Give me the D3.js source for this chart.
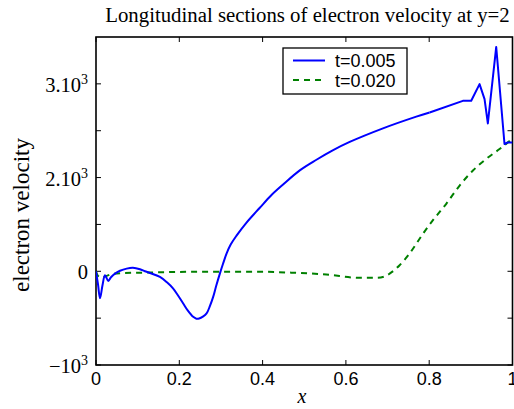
<!DOCTYPE html>
<html><head><meta charset="utf-8">
<script src="https://cdn.jsdelivr.net/npm/d3@7"></script>
<style>body{margin:0;background:#fff}svg{display:block}</style>
</head><body>
<script>
// x positions and values (y in axis units: one unit = one tick step)
const blueX = [0,0.0048,0.0096,0.0156,0.0216,0.0295,0.036,0.0456,0.0576,0.0736,0.0887,0.1055,0.1175,0.1295,0.1535,0.1703,0.1854,0.1966,0.2094,0.2206,0.2333,0.241,0.2477,0.2566,0.2655,0.2734,0.2813,0.289,0.2974,0.3046,0.3134,0.3237,0.3374,0.3614,0.3933,0.4197,0.4492,0.4892,0.5293,0.5683,0.6091,0.689,0.769,0.801,0.8808,0.9009,0.9209,0.9329,0.9408,0.9609,0.9808,0.9887,1.0];
const blueY = [0,-0.277,-0.574,-0.298,-0.085,-0.206,-0.128,-0.049,0.011,0.057,0.074,0.043,0,-0.036,-0.121,-0.234,-0.368,-0.511,-0.687,-0.84,-0.972,-1.011,-1.006,-0.968,-0.9,-0.745,-0.547,-0.298,-0.049,0.149,0.377,0.575,0.76,1.04,1.355,1.613,1.851,2.153,2.38,2.58,2.76,3.05,3.3,3.39,3.638,3.638,3.994,3.674,3.155,4.787,2.717,2.751,2.751];
const greenX = [0,0.005,0.0137,0.024,0.038,0.058,0.106,0.25,0.393,0.472,0.553,0.633,0.673,0.693,0.705,0.729,0.753,0.785,0.809,0.841,0.873,0.905,0.937,0.969,1.0];
const greenY = [0,-0.1,-0.13,-0.1,-0.06,-0.04,-0.03,-0.01,-0.01,-0.03,-0.07,-0.14,-0.14,-0.11,-0.05,0.13,0.38,0.80,1.09,1.44,1.83,2.15,2.40,2.61,2.83];
const seriesNames = ["t=0.005","t=0.020"];
const xTicks = [0,0.2,0.4,0.6,0.8,1];
const xTickLabels = ["0","0.2","0.4","0.6","0.8","1"];
const yTicks = [-2,-1,0,1,2,3,4];
const yTickBase = ["−10","","0","","2.10","","3.10"];
const yTickSup = ["3","","","","3","","3"];

const W=514,H=409, L=96, R=512.5, T=37, B=365;
const svg=d3.select("body").append("svg").attr("width",W).attr("height",H);
const x=d3.scaleLinear().domain([0,1]).range([L,R]);
const y=d3.scaleLinear().domain([-2,5]).range([B,T]);

svg.append("defs").append("clipPath").attr("id","clip").append("rect")
  .attr("x",L).attr("y",T).attr("width",R-L).attr("height",B-T);

const g=svg.append("g");
const tk=5;
xTicks.forEach(v=>{
  g.append("line").attr("x1",x(v)).attr("x2",x(v)).attr("y1",B).attr("y2",B-tk).attr("stroke","#000");
  g.append("line").attr("x1",x(v)).attr("x2",x(v)).attr("y1",T).attr("y2",T+tk).attr("stroke","#000");
});
yTicks.forEach(v=>{
  g.append("line").attr("x1",L).attr("x2",L+tk).attr("y1",y(v)).attr("y2",y(v)).attr("stroke","#000");
  g.append("line").attr("x1",R).attr("x2",R-tk).attr("y1",y(v)).attr("y2",y(v)).attr("stroke","#000");
});
g.append("rect").attr("x",L).attr("y",T).attr("width",R-L).attr("height",B-T)
  .attr("fill","none").attr("stroke","#000").attr("stroke-width",1.6);

xTicks.forEach((v,i)=>{
  g.append("text").attr("x",x(v)).attr("y",B+20).attr("text-anchor","middle")
   .attr("font-family","Liberation Sans, Arial, sans-serif").attr("font-size",18).text(xTickLabels[i]);
});
yTicks.forEach((v,i)=>{
  if(!yTickBase[i]) return;
  const t=g.append("text").attr("x",L-8).attr("y",y(v)+8).attr("text-anchor","end")
   .attr("font-family","Liberation Serif, Times New Roman, serif").attr("font-size",20.5);
  t.append("tspan").text(yTickBase[i]);
  if(yTickSup[i]) t.append("tspan").attr("dy",-8).attr("font-size",14).text(yTickSup[i]);
});

const blue=blueX.map((v,i)=>[v,blueY[i]]);
const green=greenX.map((v,i)=>[v,greenY[i]]);
const cut=blueX.indexOf(0.801);
const plot=g.append("g").attr("clip-path","url(#clip)");
plot.append("path").datum(green).attr("fill","none").attr("stroke","#008000").attr("stroke-width",2)
  .attr("stroke-dasharray","6,5")
  .attr("d",d3.line().x(d=>x(d[0])).y(d=>y(d[1])).curve(d3.curveMonotoneX));
plot.append("path").datum(blue.slice(0,cut+1)).attr("fill","none").attr("stroke","#0000ff").attr("stroke-width",2)
  .attr("stroke-linejoin","round")
  .attr("d",d3.line().x(d=>x(d[0])).y(d=>y(d[1])).curve(d3.curveCatmullRom.alpha(0.5)));
plot.append("path").datum(blue.slice(cut)).attr("fill","none").attr("stroke","#0000ff").attr("stroke-width",2)
  .attr("stroke-linejoin","round")
  .attr("d",d3.line().x(d=>x(d[0])).y(d=>y(d[1])));

const lg=g.append("g");
lg.append("rect").attr("x",283).attr("y",48).attr("width",124).attr("height",46)
  .attr("fill","#fff").attr("stroke","#000").attr("stroke-width",1.3);
const cols=["#0000ff","#008000"], dashes=[null,"6,5"];
seriesNames.forEach((n,i)=>{
  const yy=60.5+i*19.5;
  lg.append("line").attr("x1",293).attr("x2",325).attr("y1",yy).attr("y2",yy)
    .attr("stroke",cols[i]).attr("stroke-width",2).attr("stroke-dasharray",dashes[i]);
  lg.append("text").attr("x",335).attr("y",yy+6.5).attr("font-family","Liberation Sans, Arial, sans-serif")
    .attr("font-size",18).text(n);
});

svg.append("text").attr("x",307.5).attr("y",22).attr("text-anchor","middle")
  .attr("font-family","Liberation Serif, Times New Roman, serif").attr("font-size",20.8)
  .text("Longitudinal sections of electron velocity at y=2");
svg.append("text").attr("x",302).attr("y",403).attr("text-anchor","middle")
  .attr("font-family","Liberation Serif, Times New Roman, serif").attr("font-style","italic").attr("font-size",20)
  .text("x");
svg.append("text").attr("transform","translate(29,215) rotate(-90)").attr("text-anchor","middle")
  .attr("font-family","Liberation Serif, Times New Roman, serif").attr("font-size",23)
  .text("electron velocity");
</script>
</body></html>
